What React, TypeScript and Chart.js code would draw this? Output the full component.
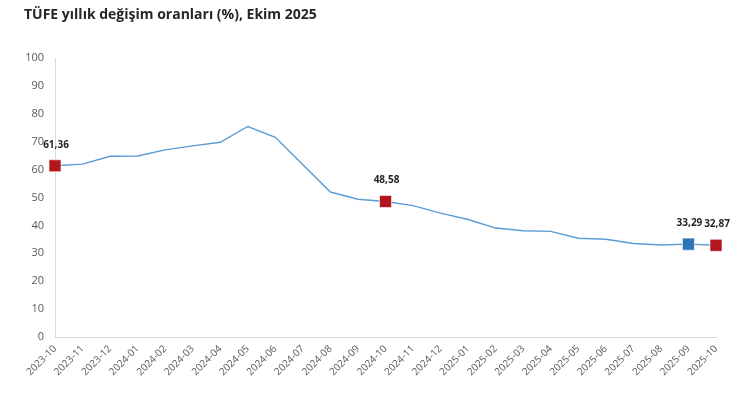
import React, { useEffect, useRef } from "react";
import { Chart, registerables } from "chart.js";

Chart.register(...registerables);

const TITLE = "TÜFE yıllık değişim oranları (%), Ekim 2025";

const months = [
  "2023-10", "2023-11", "2023-12", "2024-01", "2024-02", "2024-03", "2024-04",
  "2024-05", "2024-06", "2024-07", "2024-08", "2024-09", "2024-10", "2024-11",
  "2024-12", "2025-01", "2025-02", "2025-03", "2025-04", "2025-05", "2025-06",
  "2025-07", "2025-08", "2025-09", "2025-10",
];

const inflation = [
  61.36, 61.98, 64.77, 64.86, 67.07, 68.5, 69.8, 75.45, 71.6, 61.78, 51.97,
  49.38, 48.58, 47.09, 44.38, 42.12, 39.05, 38.1, 37.86, 35.41, 35.05, 33.52,
  32.95, 33.29, 32.87,
];

const redMonths = ["2023-10", "2024-10", "2025-10"];
const blueMonths = ["2025-09"];
const labelledMonths = ["2023-10", "2024-10", "2025-09", "2025-10"];

const yTicks = [0, 10, 20, 30, 40, 50, 60, 70, 80, 90, 100];

const RED = "#b3161c";
const BLUE = "#2e75b6";
const LINE = "#5b9bd5";

export default function App() {
  const ref = useRef<HTMLCanvasElement>(null);

  useEffect(() => {
    document.body.style.margin = "0";
    const canvas = ref.current;
    if (!canvas) return;

    const radii = months.map((m) =>
      redMonths.includes(m) || blueMonths.includes(m) ? 8.5 : 0
    );
    const colors = months.map((m) =>
      blueMonths.includes(m) ? BLUE : redMonths.includes(m) ? RED : LINE
    );

    const overlay = {
      id: "overlay",
      afterDraw(chart: any) {
        const ctx = chart.ctx;
        ctx.save();
        ctx.fillStyle = "#262626";
        ctx.font = "bold 14px 'Open Sans', sans-serif";
        ctx.textAlign = "left";
        ctx.textBaseline = "middle";
        ctx.fillText(TITLE, 24, 15);

        const meta = chart.getDatasetMeta(0);
        ctx.font = "bold 10px 'Open Sans', sans-serif";
        ctx.textAlign = "center";
        ctx.textBaseline = "middle";
        months.forEach((m, i) => {
          if (!labelledMonths.includes(m)) return;
          const pt = meta.data[i];
          const txt = inflation[i].toFixed(2).replace(".", ",");
          ctx.fillText(txt, pt.x + 1, pt.y - 21);
        });
        ctx.restore();
      },
    };

    const chart = new Chart(canvas, {
      type: "line",
      data: {
        labels: months,
        datasets: [
          {
            data: inflation,
            borderColor: LINE,
            borderWidth: 1.4,
            tension: 0,
            pointStyle: "rect",
            pointRadius: radii,
            pointHoverRadius: radii,
            pointBackgroundColor: colors,
            pointBorderColor: "rgba(255,255,255,0.6)",
            pointBorderWidth: 1,
          },
        ],
      },
      options: {
        animation: false,
        responsive: false,
        maintainAspectRatio: false,
        layout: { padding: { top: 58, right: 34, left: 0, bottom: 0 } },
        plugins: {
          legend: { display: false },
          title: { display: false },
          tooltip: { enabled: false },
        },
        scales: {
          x: {
            type: "category",
            offset: false,
            grid: { display: false, drawTicks: false },
            border: { display: true, color: "#d9d9d9", width: 1 },
            ticks: {
              autoSkip: false,
              maxRotation: 45,
              minRotation: 45,
              padding: 6,
              color: "#595959",
              font: { family: "'Open Sans', sans-serif", size: 10 },
            },
            afterFit(scale: any) {
              scale.height = 62;
            },
          },
          y: {
            min: 0,
            max: 100,
            grid: { display: false, drawTicks: false },
            border: { display: true, color: "#d9d9d9", width: 1 },
            afterBuildTicks(scale: any) {
              scale.ticks = yTicks.map((v) => ({ value: v }));
            },
            ticks: {
              padding: 11,
              color: "#595959",
              font: { family: "'Open Sans', sans-serif", size: 11 },
            },
            afterFit(scale: any) {
              scale.width = 55;
            },
          },
        },
      },
      plugins: [overlay],
    } as any);

    return () => chart.destroy();
  }, []);

  return (
    <div style={{ position: "absolute", left: 0, top: 0, width: 750, height: 399, background: "#fff" }}>
      <canvas ref={ref} width={750} height={399} style={{ width: 750, height: 399, display: "block" }} />
    </div>
  );
}
